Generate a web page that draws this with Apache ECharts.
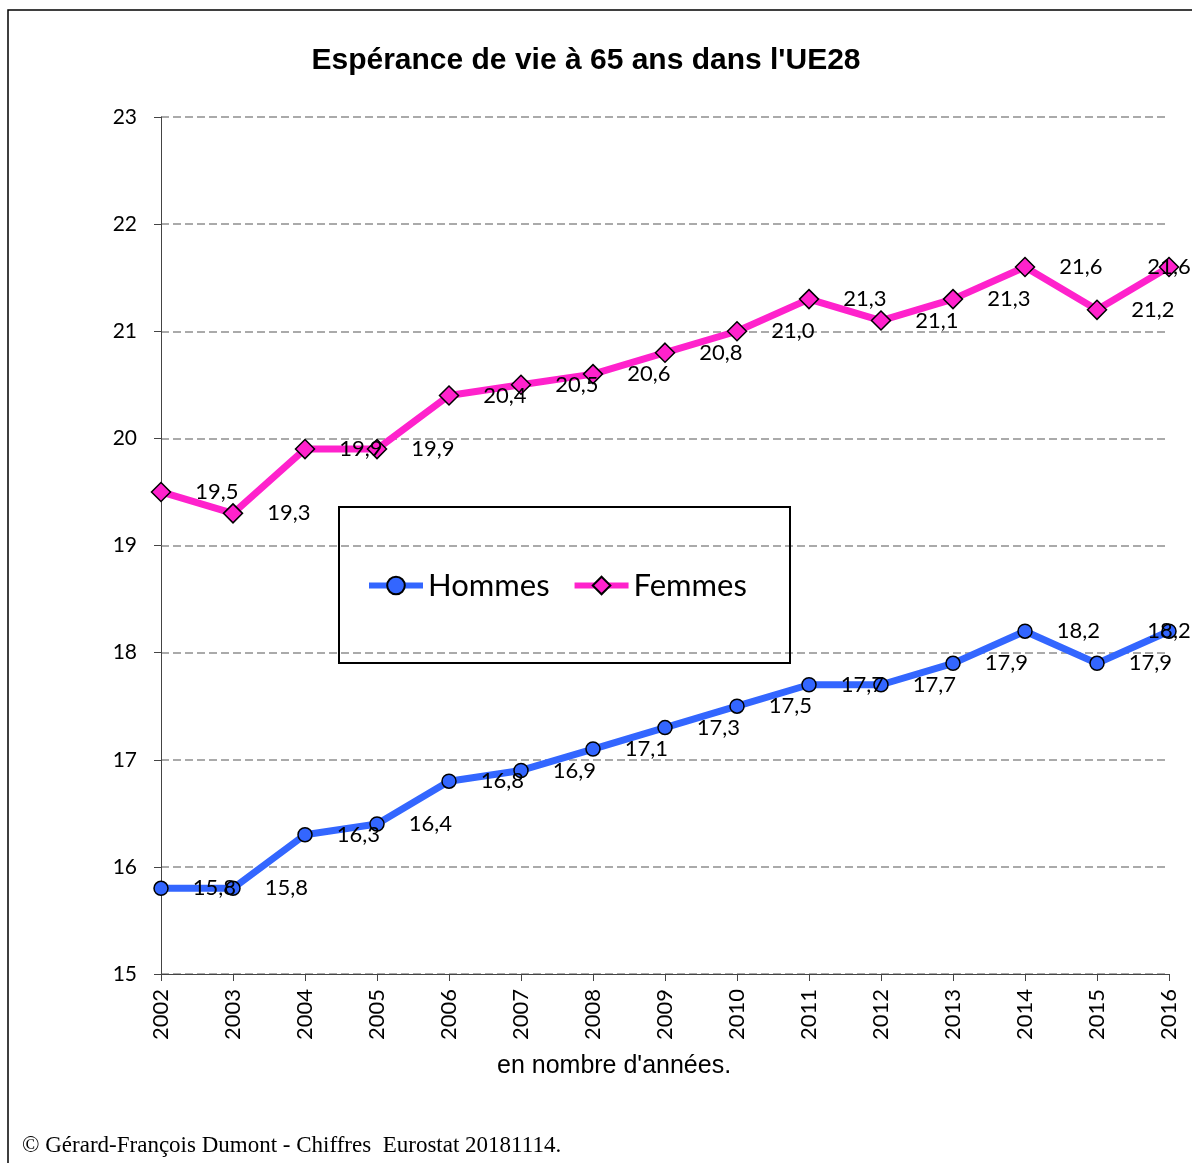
<!DOCTYPE html>
<html>
<head>
<meta charset="utf-8">
<script src="https://cdn.jsdelivr.net/npm/echarts@6/dist/echarts.min.js"></script>
<style>
  html, body { margin: 0; padding: 0; background: #fff; }
  #chart { width: 1192px; height: 1163px; }
</style>
</head>
<body>
<div id="chart"></div>
<script>
  // années
  var years = ['2002','2003','2004','2005','2006','2007','2008','2009','2010','2011','2012','2013','2014','2015','2016'];
  // espérance de vie à 65 ans
  var hommes = [15.8,15.8,16.3,16.4,16.8,16.9,17.1,17.3,17.5,17.7,17.7,17.9,18.2,17.9,18.2];
  var femmes = [19.5,19.3,19.9,19.9,20.4,20.5,20.6,20.8,21.0,21.3,21.1,21.3,21.6,21.2,21.6];

  var labelFont = 'Lato, "Open Sans", sans-serif';
  function fmt(p){ return p.value.toFixed(1).replace('.', ','); }
  // le dernier point a son étiquette posée dessus
  function points(arr){
    return arr.map(function(v, i){
      if (i === arr.length - 1) return { value: v, label: { position: 'inside' } };
      return v;
    });
  }

  var myChart = echarts.init(document.getElementById('chart'));
  myChart.setOption({
    animation: false,
    backgroundColor: '#fff',
    title: {
      text: "Espérance de vie à 65 ans dans l'UE28",
      left: 581, top: 41, textAlign: 'center',
      textStyle: { fontFamily: '"Liberation Sans", Arial, sans-serif', fontWeight: 'bold', fontSize: 30, color: '#000' }
    },
    grid: { left: 161, right: 23, top: 117, bottom: 189 },
    legend: {
      left: 361, top: 565,
      itemWidth: 54, itemHeight: 22, itemGap: 22,
      lineStyle: { width: 6 },
      textStyle: { fontFamily: labelFont, fontSize: 31, color: '#000' },
      data: ['Hommes', 'Femmes']
    },
    xAxis: {
      type: 'category',
      data: years,
      boundaryGap: false,
      axisLine: { lineStyle: { color: '#444', width: 1 } },
      axisTick: { length: 7, lineStyle: { color: '#444' } },
      axisLabel: { rotate: 90, margin: 15, fontFamily: labelFont, fontSize: 22, color: '#000' }
    },
    yAxis: {
      type: 'value',
      min: 15, max: 23, interval: 1,
      axisLine: { show: true, lineStyle: { color: '#444', width: 1 } },
      axisTick: { show: true, length: 7, lineStyle: { color: '#444' } },
      axisLabel: { margin: 24, fontFamily: labelFont, fontSize: 21, color: '#000' },
      splitLine: { lineStyle: { color: '#aaa', width: 2, type: [8, 4] } }
    },
    series: [
      {
        name: 'Hommes', type: 'line', data: points(hommes),
        symbol: 'circle', symbolSize: 14,
        lineStyle: { color: '#3366ff', width: 7 },
        itemStyle: { color: '#3366ff', borderColor: '#000', borderWidth: 1.5 },
        label: { show: true, position: 'right', distance: 24, formatter: fmt,
                 fontFamily: labelFont, fontSize: 22, color: '#000' },
        z: 3
      },
      {
        name: 'Femmes', type: 'line', data: points(femmes),
        symbol: 'diamond', symbolSize: 19,
        lineStyle: { color: '#ff22cc', width: 7 },
        itemStyle: { color: '#ff22cc', borderColor: '#000', borderWidth: 1.5 },
        label: { show: true, position: 'right', distance: 24, formatter: fmt,
                 fontFamily: labelFont, fontSize: 22, color: '#000' },
        z: 3
      }
    ],
    graphic: [
      { type: 'rect', shape: { x: 8, y: 10, width: 1300, height: 1300 },
        style: { fill: 'none', stroke: '#000', lineWidth: 1.5 }, silent: true },
      { type: 'rect', shape: { x: 339, y: 507, width: 451, height: 156 },
        style: { fill: 'none', stroke: '#000', lineWidth: 2 }, silent: true, z: 10 },
      { type: 'text', left: 497, top: 1054,
        style: { text: "en nombre d'années.", fill: '#000',
                 font: '25px "Liberation Sans", Arial, sans-serif' } },
      { type: 'text', left: 22, top: 1134,
        style: { text: '© Gérard-François Dumont - Chiffres  Eurostat 20181114.', fill: '#000',
                 font: '23px "Liberation Serif", "Times New Roman", serif' } }
    ]
  });
</script>
</body>
</html>
